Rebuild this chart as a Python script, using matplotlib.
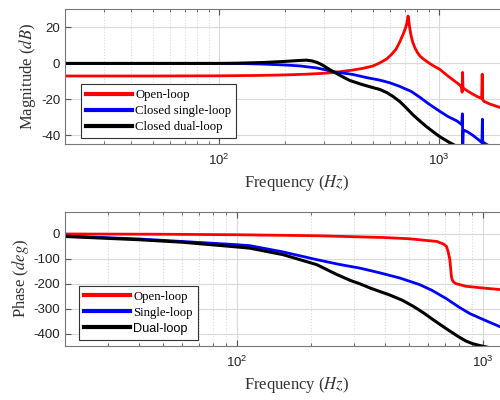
import matplotlib
matplotlib.use('Agg')
import matplotlib.pyplot as plt
from matplotlib.ticker import LogLocator, NullFormatter

plt.rcParams['font.family'] = ['Liberation Sans', 'DejaVu Sans']
plt.rcParams['mathtext.fontset'] = 'stix'
plt.rcParams['axes.unicode_minus'] = False

# Magnitude (dB)
f_mag_open = [20, 50, 100, 150, 200, 250, 300, 336, 400, 450, 500, 540, 580, 610, 640, 665, 690, 705, 715,
              721, 725, 729, 735, 745, 760, 780, 800, 822, 860, 900, 950, 1010, 1100, 1200, 1260, 1272,
              1276, 1280, 1283, 1287, 1300, 1400, 1500, 1565, 1575, 1582, 1600, 1700, 1900, 2200, 2600]
mag_open = [-7, -7, -6.9, -6.7, -6.4, -6.0, -5.5, -5.0, -3.8, -2.8, -1.5, 0.3, 2.5, 5, 8, 12, 16.5, 19.5, 22,
            24.5, 26.3, 24.5, 21, 16.5, 12, 8.5, 6, 4, 2, 0.3, -1.5, -3.3, -7, -10.5, -12.5, -14,
            -16, -12, -5, -13, -14, -16.5, -18.5, -19.5, -6, -20, -21, -22.5, -24.5, -27, -30]

f_mag_single = [20, 50, 100, 130, 160, 200, 233, 278, 336, 405, 470, 540, 600, 665, 750, 822, 900, 1010, 1100,
                1210, 1270, 1280, 1285, 1292, 1350, 1430, 1500, 1570, 1578, 1585, 1600, 1700, 1900, 2200, 2600]
mag_single = [0, 0, 0, -0.1, -0.4, -0.9, -1.4, -2.5, -4.7, -6.1, -7.9, -9.3, -10.8, -12.8, -15.6, -18.9, -22.5,
              -26.6, -29.5, -32, -34, -28, -45, -37, -38, -40, -42, -44, -31, -46, -44, -46, -50, -55, -60]

f_mag_dual = [20, 50, 100, 120, 160, 200, 230, 250, 265, 280, 295, 310, 336, 360, 394, 450, 500, 540, 580,
              620, 665, 710, 762, 820, 880, 950, 1010, 1120, 1250, 1400]
mag_dual = [0, 0, 0, 0.1, 0.5, 1.1, 1.6, 1.8, 1.4, 0.5, -0.8, -2.5, -5, -7, -9.5, -11.8, -13.4, -14.5, -16.2,
            -18.4, -21.2, -24.6, -28.5, -32, -35.2, -38.3, -40.7, -44, -47, -50]

# Phase (deg)
f_ph_open = [20, 50, 100, 211, 393, 500, 650, 690, 700, 711, 722, 734, 745, 752, 760, 775, 853, 1000, 1170,
             1600]
ph_open = [0, -1, -3, -7, -14, -19, -30, -40, -44, -50, -70, -103, -172, -186, -193, -199, -210, -217, -223,
           -232]

f_ph_single = [20, 40, 60, 100, 113, 154, 211, 260, 316, 381, 460, 552, 620, 711, 800, 886, 944, 1000, 1170,
               1600]
ph_single = [-8, -20, -30, -43, -47, -72, -103, -122, -137, -156, -177, -203, -226, -260, -294, -320, -332,
             -343, -372, -420]

f_ph_dual = [20, 40, 60, 100, 113, 154, 211, 255, 290, 316, 350, 381, 418, 470, 520, 570, 625, 680, 734,
             800, 853, 910, 970, 1100, 1600]
ph_dual = [-10, -23, -33, -52, -57, -83, -123, -163, -187, -200, -218, -231, -245, -266, -290, -315, -343,
           -368, -390, -414, -430, -441, -448, -460, -500]

serif = 'Liberation Serif'
grid_col = '#d9d9d9'

fig = plt.figure(figsize=(5, 4), dpi=100)
ax1 = fig.add_axes([0.13, 0.639, 0.928, 0.3375])
ax2 = fig.add_axes([0.13, 0.135, 0.928, 0.336])


def style(ax):
    ax.set_xscale('log')
    ax.xaxis.set_minor_locator(LogLocator(base=10, subs=range(2, 10)))
    ax.xaxis.set_minor_formatter(NullFormatter())
    ax.set_xticks([100, 1000])
    ax.set_xticklabels([r'$\mathregular{10^2}$', r'$\mathregular{10^3}$'])
    ax.grid(True, which='major', color=grid_col, linewidth=0.8, linestyle='-')
    ax.grid(True, which='minor', axis='x', color=grid_col, linewidth=0.8, linestyle=':')
    ax.tick_params(which='both', direction='in', top=True, right=True, colors='#555555',
                   labelcolor='#222222', labelsize=9.5)
    ax.tick_params(which='major', length=4)
    ax.tick_params(which='minor', length=2)
    ax.tick_params(axis='x', pad=6)
    for s in ax.spines.values():
        s.set_color('#777777')
        s.set_linewidth(0.8)
    ax.set_axisbelow(True)


leg_kw = dict(loc='lower left', borderaxespad=0, fancybox=False, edgecolor='#333333', framealpha=1,
              handlelength=3.6, handletextpad=0.25, labelspacing=0.32, borderpad=0.4,
              prop={'family': serif, 'size': 9.2})

# Magnitude
style(ax1)
ax1.plot(f_mag_open, mag_open, color='#ff0000', lw=2, label='Open-loop')
ax1.plot(f_mag_single, mag_single, color='#0000ff', lw=2, label='Closed single-loop')
ax1.plot(f_mag_dual, mag_dual, color='black', lw=2.2, label='Closed dual-loop')
ax1.set_xlim(20, 2570)
ax1.set_ylim(-45, 30)
ax1.set_yticks([-40, -20, 0, 20])
ax1.set_xlabel('Frequency ($Hz$)', fontfamily=serif, fontsize=12, color='#333333', labelpad=4)
ax1.set_ylabel('Magnitude ($dB$)', fontfamily=serif, fontsize=12, color='#333333', labelpad=2)
leg1 = ax1.legend(bbox_to_anchor=(0.034, 0.045), **leg_kw)
leg1.get_frame().set_linewidth(0.8)
for line in leg1.get_lines():
    line.set_linewidth(3)

# Phase
style(ax2)
ax2.plot(f_ph_open, ph_open, color='#ff0000', lw=2, label='Open-loop')
ax2.plot(f_ph_single, ph_single, color='#0000ff', lw=2, label='Single-loop')
ax2.plot(f_ph_dual, ph_dual, color='black', lw=2.2, label='Dual-loop')
ax2.set_xlim(20, 1540)
ax2.set_ylim(-450, 90)
ax2.set_yticks([-400, -300, -200, -100, 0])
ax2.set_xlabel('Frequency ($Hz$)', fontfamily=serif, fontsize=12, color='#333333', labelpad=4)
ax2.set_ylabel('Phase ($deg$)', fontfamily=serif, fontsize=12, color='#333333', labelpad=2)
leg2 = ax2.legend(bbox_to_anchor=(0.030, 0.045), **leg_kw)
leg2.get_frame().set_linewidth(0.8)
leg2.get_texts()[2].set_fontfamily('Liberation Sans')
for line in leg2.get_lines():
    line.set_linewidth(3)

fig.savefig('out.png', dpi=100)
